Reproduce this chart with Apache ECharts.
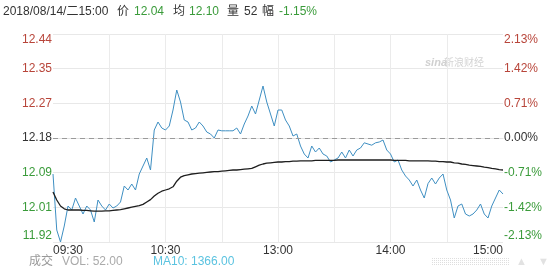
<!DOCTYPE html>
<html><head><meta charset="utf-8">
<script src="https://cdn.jsdelivr.net/npm/echarts@6/dist/echarts.min.js"></script>
<style>html,body{margin:0;padding:0;background:#fff}#c{width:557px;height:272px}</style>
</head><body><div id="c"></div>
<script>
// ---- data ----
const prevClose = 12.18;
const priceMin = 11.92, priceMax = 12.44;
const leftLabels = ['11.92','12.01','12.09','12.18','12.27','12.35','12.44'];
const rightLabels = ['-2.13%','-1.42%','-0.71%','0.00%','0.71%','1.42%','2.13%'];
const xTickLabels = ['09:30','10:30','13:00','14:00','15:00'];
const header = { date:'2018/08/14/二15:00', price:'12.04', avg:'12.10', vol:'52', chg:'-1.15%' };
const footer = { vol:'VOL: 52.00', ma:'MA10: 1366.00' };

const price = [
12.09,11.95,11.92,11.96,12.01,12.00,12.03,12.01,11.99,12.01,
12.00,11.97,12.025,12.01,12.00,12.015,12.005,12.01,12.02,12.06,
12.05,12.065,12.05,12.09,12.11,12.13,12.10,12.20,12.22,12.205,
12.20,12.21,12.25,12.30,12.27,12.225,12.22,12.20,12.205,12.22,
12.21,12.195,12.19,12.18,12.20,12.198,12.198,12.198,12.198,12.205,
12.19,12.215,12.235,12.26,12.24,12.275,12.31,12.27,12.24,12.21,
12.25,12.25,12.225,12.21,12.185,12.19,12.16,12.14,12.13,12.16,
12.145,12.155,12.14,12.135,12.12,12.125,12.13,12.145,12.13,12.15,
12.135,12.15,12.155,12.168,12.165,12.162,12.168,12.17,12.175,12.15,
12.14,12.12,12.125,12.10,12.085,12.075,12.06,12.075,12.05,12.03,
12.066,12.08,12.065,12.08,12.09,12.05,12.025,11.98,12.01,12.015,
11.99,11.985,11.99,12.00,12.015,11.99,11.98,12.01,12.03,12.05,
12.04];
const avg = [
12.045,12.025,12.01,12.003,12.0,12.0,12.0,12.0,11.999,11.999,
11.998,11.997,11.997,11.997,11.998,11.998,11.999,12.0,12.001,12.003,
12.005,12.007,12.009,12.011,12.014,12.02,12.026,12.035,12.042,12.047,
12.05,12.053,12.058,12.072,12.082,12.086,12.088,12.09,12.091,12.092,
12.093,12.094,12.095,12.096,12.096,12.097,12.098,12.099,12.1,12.1,
12.101,12.102,12.103,12.104,12.108,12.112,12.115,12.117,12.118,12.119,
12.12,12.12,12.121,12.121,12.122,12.122,12.123,12.123,12.123,12.123,
12.124,12.124,12.124,12.124,12.124,12.124,12.125,12.125,12.125,12.125,
12.125,12.125,12.125,12.125,12.125,12.125,12.125,12.125,12.125,12.125,
12.125,12.124,12.124,12.124,12.124,12.123,12.123,12.123,12.123,12.123,
12.123,12.122,12.122,12.121,12.121,12.12,12.12,12.118,12.117,12.115,
12.114,12.112,12.111,12.11,12.109,12.107,12.106,12.104,12.103,12.101,
12.10];

// category axis: 2-minute steps, 09:30..11:28 then 13:00..15:00
const times = [];
function pad(n){return (n<10?'0':'')+n;}
for (let m = 9*60+30; m < 11*60+30; m += 2) times.push(pad(Math.floor(m/60))+':'+pad(m%60));
for (let m = 13*60; m <= 15*60; m += 2) times.push(pad(Math.floor(m/60))+':'+pad(m%60));

const RED = '#b8453a', GREEN = '#3a9b3a', DARK = '#333';
const FONT = '"Liberation Sans", Arial, "Noto Sans CJK SC", sans-serif';

const chart = echarts.init(document.getElementById('c'), null, {renderer:'canvas'});
const lblColor = v => v > 0.01 ? RED : (v < -0.01 ? GREEN : DARK);

const hdrY = 12;
function t(x, y, text, color, size, extra){
  return Object.assign({type:'text', x:x, y:y, style:{text:text, fill:color, font:(size||12)+'px '+FONT, textVerticalAlign:'middle', verticalAlign:'middle'}}, extra||{});
}
const graphics = [
  t(3, hdrY, header.date, DARK),
  t(117, hdrY, '价', DARK),
  t(134, hdrY, header.price, GREEN),
  t(173, hdrY, '均', DARK),
  t(189, hdrY, header.avg, GREEN),
  t(227, hdrY, '量', DARK),
  t(244, hdrY, header.vol, DARK),
  t(262, hdrY, '幅', DARK),
  t(279, hdrY, header.chg, GREEN),
  t(29, 262, '成交', '#999', 12),
  t(62, 262, footer.vol, '#aaa', 12),
  t(153, 262, footer.ma, '#5bc3e0', 12),
  {type:'text', x:425, y:63, style:{text:'sina', fill:'#d0d0d0', font:'italic bold 11px '+FONT, verticalAlign:'middle'}},
  t(444, 63, '新浪财经', '#d4d4d4', 10),
  t(516, 262, '▲', '#e2e2e2', 11),
  t(538, 262, '▼', '#e2e2e2', 11)
];
for (let k = 0; k < 4; k++) {
  graphics.push({type:'line', shape:{x1:432, y1:258.5+k*2, x2:510, y2:258.5+k*2}, style:{stroke:'#dedede', lineWidth:1, lineDash:[1,1]}});
}

chart.setOption({
  animation:false,
  backgroundColor:'#fff',
  grid:{left:53, right:54, top:34, bottom:30, containLabel:false},
  xAxis:{
    type:'category', data:times, boundaryGap:false,
    axisLine:{show:true, lineStyle:{color:'#e3e3e3'}},
    axisTick:{show:false},
    axisLabel:{
      color:DARK, fontSize:12, fontFamily:FONT, margin:3,
      interval:(i, v) => xTickLabels.indexOf(v) >= 0,
      alignMinLabel:'left', alignMaxLabel:'right'
    },
    splitLine:{show:true, interval:(i) => i % 15 === 0 && i > 0 && i < times.length-1, lineStyle:{color:'#ebebeb'}}
  },
  yAxis:[
    {type:'value', min:priceMin, max:priceMax, show:false, splitLine:{show:false}},
    {type:'value', min:-3, max:3, interval:1, position:'left',
     axisLine:{show:false}, axisTick:{show:false},
     axisLabel:{margin:1, fontSize:12, fontFamily:FONT,
       formatter:v => leftLabels[Math.round(v)+3],
       color:v => lblColor(v),
       verticalAlignMinLabel:'bottom', verticalAlignMaxLabel:'top'},
     splitLine:{show:true, lineStyle:{color:'#e8e8e8'}}},
    {type:'value', min:-3, max:3, interval:1, position:'right',
     axisLine:{show:false}, axisTick:{show:false},
     axisLabel:{margin:1, fontSize:12, fontFamily:FONT,
       formatter:v => rightLabels[Math.round(v)+3],
       color:v => lblColor(v),
       verticalAlignMinLabel:'bottom', verticalAlignMaxLabel:'top'},
     splitLine:{show:false}}
  ],
  series:[
    {type:'line', yAxisIndex:0, data:price, showSymbol:false, symbol:'none',
     lineStyle:{color:'#3f8fc2', width:1},
     markLine:{silent:true, symbol:['none','none'], label:{show:false},
       lineStyle:{color:'#9a9a9a', type:[5,4], width:1},
       data:[{yAxis:prevClose}]}},
    {type:'line', yAxisIndex:0, data:avg, showSymbol:false, symbol:'none',
     lineStyle:{color:'#1e1e1e', width:1.3}}
  ],
  graphic:graphics
});
</script></body></html>
